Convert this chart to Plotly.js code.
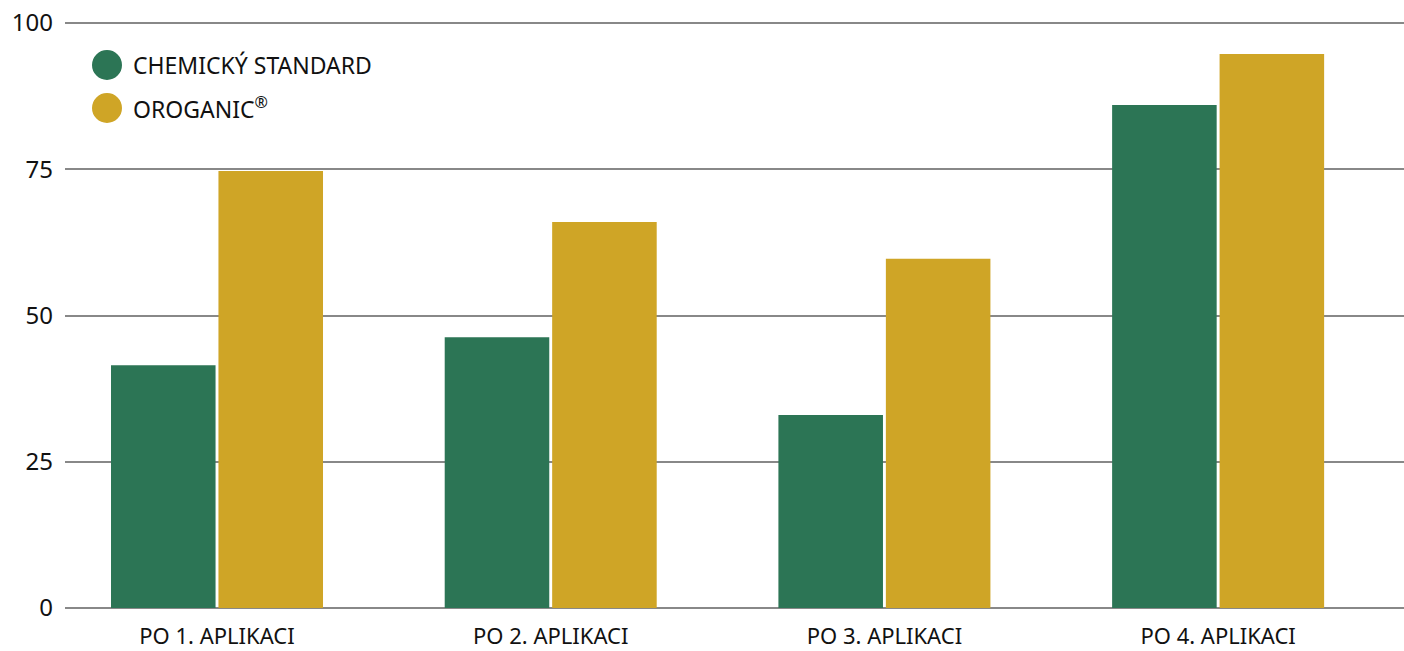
<!DOCTYPE html>
<html>
<head>
<meta charset="utf-8">
<script src="https://cdn.plot.ly/plotly-3.0.1.min.js"></script>
<style>html,body{margin:0;padding:0;background:#fff;}#chart{width:1404px;height:651px;}</style>
</head>
<body>
<div id="chart"></div>
<script>
const categories = ["PO 1. APLIKACI", "PO 2. APLIKACI", "PO 3. APLIKACI", "PO 4. APLIKACI"];
const chemickyStandard = [41.5, 46.3, 33, 86];
const oroganic = [74.7, 66, 59.7, 94.7];
const seriesNames = ["CHEMICKÝ STANDARD", "OROGANIC<sup>®</sup>"];
const yTicks = [0, 25, 50, 75, 100];

const green = "#2C7555";
const gold = "#CFA526";
const font = "Noto Sans, sans-serif";

const traces = [
  {type: "bar", x: categories, y: chemickyStandard, name: "CHEMICKÝ STANDARD", marker: {color: green}, showlegend: false, hoverinfo: "y"},
  {type: "bar", x: categories, y: oroganic, name: "OROGANIC®", marker: {color: gold}, showlegend: false, hoverinfo: "y"}
];

const H = 651, T = 21, B = 41;
const Y0 = 608, PXU = 5.85;
function pyToData(py) { return (Y0 - py) / PXU; }
const xPaper = px => (px - 65) / (1404 - 65);

const legendItems = [
  {name: seriesNames[0], color: green, y: 65},
  {name: seriesNames[1], color: gold, y: 108}
];

const shapes = legendItems.map(it => ({
  type: "circle", xref: "paper", yref: "y",
  xsizemode: "pixel", ysizemode: "pixel",
  xanchor: xPaper(107), yanchor: pyToData(it.y),
  x0: -15, x1: 15, y0: -15, y1: 15,
  fillcolor: it.color, line: {width: 0}
}));
const annotations = legendItems.map(it => ({
  xref: "paper", yref: "y",
  x: xPaper(131), y: pyToData(it.y),
  xanchor: "left", yanchor: "middle",
  text: it.name, showarrow: false,
  font: {family: font, size: 23, color: "#111"}
}));

const layout = {
  width: 1404, height: 651,
  margin: {l: 65, r: 0, t: T, b: B, pad: 0},
  paper_bgcolor: "#fff", plot_bgcolor: "#fff",
  barmode: "group", bargap: 0.356, bargroupgap: 0.027,
  showlegend: false,
  xaxis: {
    type: "category", range: [-0.4555, 3.557],
    showgrid: false, zeroline: false, showline: false, ticks: "",
    ticklabelstandoff: 11,
    tickfont: {family: font, size: 22, color: "#111"},
    fixedrange: true
  },
  yaxis: {
    range: [-0.34, 100.34], tickvals: yTicks, ticktext: yTicks.map(String),
    showgrid: true, gridcolor: "#888888", gridwidth: 2,
    zeroline: true, zerolinecolor: "#888888", zerolinewidth: 2,
    showline: false, ticks: "",
    ticklabelstandoff: 11,
    tickfont: {family: font, size: 24, color: "#111"},
    fixedrange: true
  },
  shapes: shapes,
  annotations: annotations,
  font: {family: font}
};

Plotly.newPlot("chart", traces, layout, {displayModeBar: false, staticPlot: true});
</script>
</body>
</html>
